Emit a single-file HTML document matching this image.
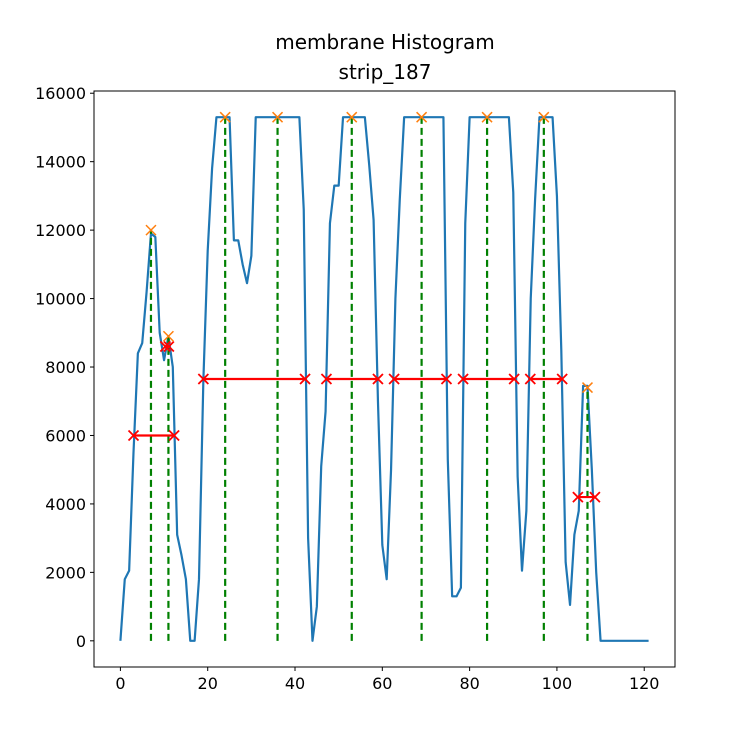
<!DOCTYPE html>
<html><head><meta charset="utf-8"><style>
body{margin:0;background:#fff;}
svg{display:block;font-family:"DejaVu Sans","Liberation Sans",sans-serif;}
</style></head><body>
<svg id="chart" width="750" height="750"></svg>
<script>
const yValues=[0,1800,2050,5500,8400,8700,10200,11900,11800,9000,8200,8900,8000,3100,2500,1800,0,0,1800,7600,11400,13800,15300,15300,15300,15300,11700,11700,11000,10450,11250,15300,15300,15300,15300,15300,15300,15300,15300,15300,15300,15300,12600,3000,0,1000,5100,6700,12200,13300,13300,15300,15300,15300,15300,15300,15300,13900,12300,7000,2800,1800,5000,10000,12900,15300,15300,15300,15300,15300,15300,15300,15300,15300,15300,5300,1300,1300,1550,12200,15300,15300,15300,15300,15300,15300,15300,15300,15300,15300,13100,4800,2050,3800,10000,12900,15300,15300,15300,15300,13000,8500,2300,1050,3100,3800,7450,7450,5000,2000,0,0,0,0,0,0,0,0,0,0,0,0];
const peakX=[7,11,24,36,53,69,84,97,107];
const peakY=[12000,8900,15300,15300,15300,15300,15300,15300,7400];
const widthLeft=[3,10.3,19,47.2,62.7,78.5,93.9,104.8];
const widthRight=[12.3,11.1,42.3,59,74.7,90.2,101.2,108.7];
const widthRowY=[6000,8600,7650,7650,7650,7650,7650,4200];
const xTicks=[0,20,40,60,80,100,120];
const yTicks=[0,2000,4000,6000,8000,10000,12000,14000,16000];

const L=94,R=675,T=91,B=667;
const xmin=-6.05,xmax=127.05,ymin=-765,ymax=16065;
const sx=v=>L+(v-xmin)/(xmax-xmin)*(R-L);
const sy=v=>B-(v-ymin)/(ymax-ymin)*(B-T);
const NS='http://www.w3.org/2000/svg';
const svg=document.getElementById('chart');
function mk(tag,attrs,parent){const e=document.createElementNS(NS,tag);for(const k in attrs)e.setAttribute(k,attrs[k]);(parent||svg).appendChild(e);return e;}

let t=mk('text',{x:385,y:49,'text-anchor':'middle','font-size':'20',fill:'#000'});t.textContent='membrane Histogram';


t=mk('text',{x:385,y:79,'text-anchor':'middle','font-size':'20',fill:'#000'});t.textContent='strip_187';



const pts=yValues.map((v,i)=>sx(i).toFixed(2)+','+sy(v).toFixed(2)).join(' ');
const line=mk('polyline',{points:pts,fill:'none',stroke:'#1f77b4','stroke-width':2.2,'stroke-linejoin':'round'});



peakX.forEach((x,i)=>{
  const l=mk('line',{x1:sx(x),x2:sx(x),y1:sy(0),y2:sy(peakY[i]),stroke:'#008000','stroke-width':2.2,'stroke-dasharray':'7,4'});
  
  
});
widthLeft.forEach((x,i)=>{
  const y=sy(widthRowY[i]);
  const l=mk('line',{x1:sx(x),x2:sx(widthRight[i]),y1:y,y2:y,stroke:'#ff0000','stroke-width':2.2});
  
  
  [x,widthRight[i]].forEach(xx=>{
    const cx=sx(xx),s=5;
    const p=mk('path',{d:`M${cx-s},${y-s}L${cx+s},${y+s}M${cx-s},${y+s}L${cx+s},${y-s}`,stroke:'#ff0000','stroke-width':1.8});
    
    
  });
});
peakX.forEach((x,i)=>{
  const cx=sx(x),cy=sy(peakY[i]),s=5;
  const p=mk('path',{d:`M${cx-s},${cy-s}L${cx+s},${cy+s}M${cx-s},${cy+s}L${cx+s},${cy-s}`,stroke:'#ff7f0e','stroke-width':1.5});
  
  
});

const fr=mk('rect',{x:L,y:T,width:R-L,height:B-T,fill:'none',stroke:'#000','stroke-width':1});



xTicks.forEach(v=>{
  const x=sx(v);
  const tk=mk('line',{x1:x,x2:x,y1:B,y2:B+4,stroke:'#000','stroke-width':1});
  
  
  const tx=mk('text',{x:x,y:B+22,'text-anchor':'middle','font-size':'16',fill:'#000'});
  tx.textContent=v;
  
  
});
yTicks.forEach(v=>{
  const y=sy(v);
  const tk=mk('line',{x1:L-4,x2:L,y1:y,y2:y,stroke:'#000','stroke-width':1});
  
  
  const tx=mk('text',{x:L-8,y:y+6,'text-anchor':'end','font-size':'16',fill:'#000'});
  tx.textContent=v;
  
  
});
</script>
</body></html>
